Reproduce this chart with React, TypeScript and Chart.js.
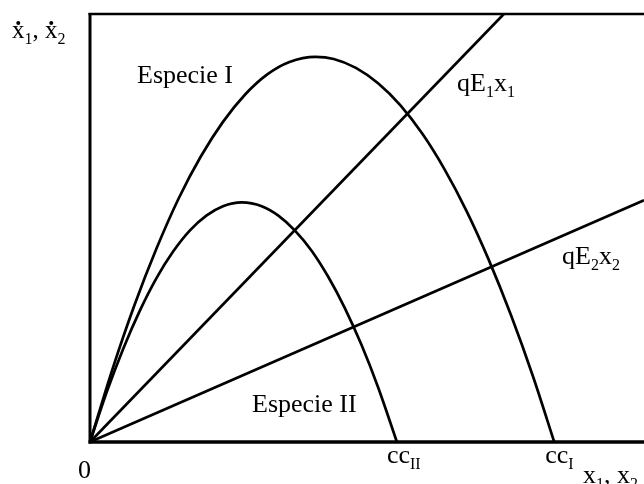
import React, { useEffect, useRef } from "react";
import { Chart, registerables } from "chart.js";

Chart.register(...registerables);

// Especie I growth curve (population vs. growth rate)
const especieIX = [0, 4, 8, 12, 16, 20, 24, 28, 32, 36, 40.7, 44, 48, 52, 56, 60, 64, 68, 72, 76, 80, 83.8];
const especieIY = [0, 16.8, 31.9, 45.2, 56.9, 66.7, 74.8, 81.2, 85.9, 88.8, 90, 89.5, 87.4, 83.8, 78.7, 72.0, 63.7, 53.9, 42.5, 29.6, 15.2, 0];

// Especie II growth curve
const especieIIX = [0, 3, 6, 9, 12, 15, 18, 21, 24, 27.4, 31, 34, 37, 40, 43, 46, 49, 52, 55.4];
const especieIIY = [0, 11.6, 21.8, 30.7, 38.3, 44.5, 49.4, 52.9, 55.1, 56, 55.1, 52.9, 49.4, 44.7, 38.6, 31.3, 22.7, 12.8, 0];

// Harvest lines qE1·x1 and qE2·x2
const harvest1X = [0, 74.7];
const harvest1Y = [0, 100];
const harvest2X = [0, 100];
const harvest2Y = [0, 56.5];

// Carrying capacities (where each curve returns to zero)
const ccII = 55.4;
const ccI = 83.8;

const FONT = '"Liberation Serif", "Times New Roman", serif';

const toPoints = (xs: number[], ys: number[]) => xs.map((x, i) => ({ x, y: ys[i] }));

type Part = { t: string; sub?: boolean };

function drawParts(ctx: CanvasRenderingContext2D, parts: Part[], x: number, y: number, size: number) {
  let cx = x;
  for (const p of parts) {
    if (p.sub) {
      ctx.font = `${Math.round(size * 0.62)}px ${FONT}`;
      ctx.fillText(p.t, cx, y + size * 0.22);
    } else {
      ctx.font = `${size}px ${FONT}`;
      ctx.fillText(p.t, cx, y);
    }
    cx += ctx.measureText(p.t).width;
  }
  return cx;
}

const framePlugin = {
  id: "frame",
  afterDraw(chart: any) {
    const { ctx, chartArea } = chart;
    const { left, top, right, bottom } = chartArea;
    ctx.save();
    ctx.strokeStyle = "#000";
    ctx.lineCap = "butt";
    // left axis
    ctx.lineWidth = 3;
    ctx.beginPath();
    ctx.moveTo(left, top - 1);
    ctx.lineTo(left, bottom + 1.5);
    ctx.stroke();
    // top border
    ctx.lineWidth = 2.5;
    ctx.beginPath();
    ctx.moveTo(left - 1.5, top);
    ctx.lineTo(right, top);
    ctx.stroke();
    // bottom axis
    ctx.lineWidth = 3.5;
    ctx.beginPath();
    ctx.moveTo(left - 1.5, bottom);
    ctx.lineTo(right, bottom);
    ctx.stroke();

    ctx.fillStyle = "#000";
    ctx.textBaseline = "alphabetic";
    ctx.textAlign = "left";
    const size = 26;
    const xs = chart.scales.x;

    drawParts(ctx, [{ t: "Especie I" }], 137, 83, size);
    drawParts(ctx, [{ t: "Especie II" }], 252, 412, size);
    drawParts(ctx, [{ t: "qE" }, { t: "1", sub: true }, { t: "x" }, { t: "1", sub: true }], 457, 91, size);
    drawParts(ctx, [{ t: "qE" }, { t: "2", sub: true }, { t: "x" }, { t: "2", sub: true }], 562, 264, size);
    drawParts(ctx, [{ t: "0" }], 78, 478, size);
    drawParts(ctx, [{ t: "cc" }, { t: "II", sub: true }], xs.getPixelForValue(ccII) - 10, 463, size);
    drawParts(ctx, [{ t: "cc" }, { t: "I", sub: true }], xs.getPixelForValue(ccI) - 9, 463, size);
    drawParts(ctx, [{ t: "x" }, { t: "1", sub: true }, { t: ", x" }, { t: "2", sub: true }], 583, 483, size);

    // y axis label with time-derivative dots
    const ySize = 25;
    const x0 = 12;
    const yb = 38;
    let cx = drawParts(ctx, [{ t: "x" }], x0, yb, ySize);
    ctx.font = `${ySize}px ${FONT}`;
    const xw = ctx.measureText("x").width;
    ctx.beginPath();
    ctx.arc(x0 + xw / 2, 23, 2, 0, Math.PI * 2);
    ctx.fill();
    cx = drawParts(ctx, [{ t: "1", sub: true }, { t: ", " }], cx, yb, ySize);
    const x2 = cx;
    drawParts(ctx, [{ t: "x" }, { t: "2", sub: true }], x2, yb, ySize);
    ctx.beginPath();
    ctx.arc(x2 + xw / 2, 23, 2, 0, Math.PI * 2);
    ctx.fill();
    ctx.restore();
  },
};

export default function App() {
  const ref = useRef<HTMLCanvasElement | null>(null);

  useEffect(() => {
    if (!ref.current) return;
    const line = (data: { x: number; y: number }[], curved: boolean) => ({
      data,
      borderColor: "#000",
      borderWidth: 2.7,
      pointRadius: 0,
      fill: false,
      cubicInterpolationMode: curved ? ("monotone" as const) : ("default" as const),
      tension: 0,
    });
    const chart = new Chart(ref.current, {
      type: "line",
      data: {
        datasets: [
          line(toPoints(especieIX, especieIY), true),
          line(toPoints(especieIIX, especieIIY), true),
          line(toPoints(harvest1X, harvest1Y), false),
          line(toPoints(harvest2X, harvest2Y), false),
        ],
      },
      options: {
        animation: false,
        responsive: false,
        devicePixelRatio: 1,
        layout: { padding: { left: 90, top: 14, right: 0, bottom: 42 } },
        scales: {
          x: { type: "linear", min: 0, max: 100, display: false },
          y: { type: "linear", min: 0, max: 100, display: false },
        },
        plugins: { legend: { display: false }, tooltip: { enabled: false } },
      },
      plugins: [framePlugin],
    });
    return () => chart.destroy();
  }, []);

  return (
    <div style={{ position: "fixed", left: 0, top: 0, width: 644, height: 484, background: "#fff" }}>
      <canvas ref={ref} width={644} height={484} />
    </div>
  );
}
